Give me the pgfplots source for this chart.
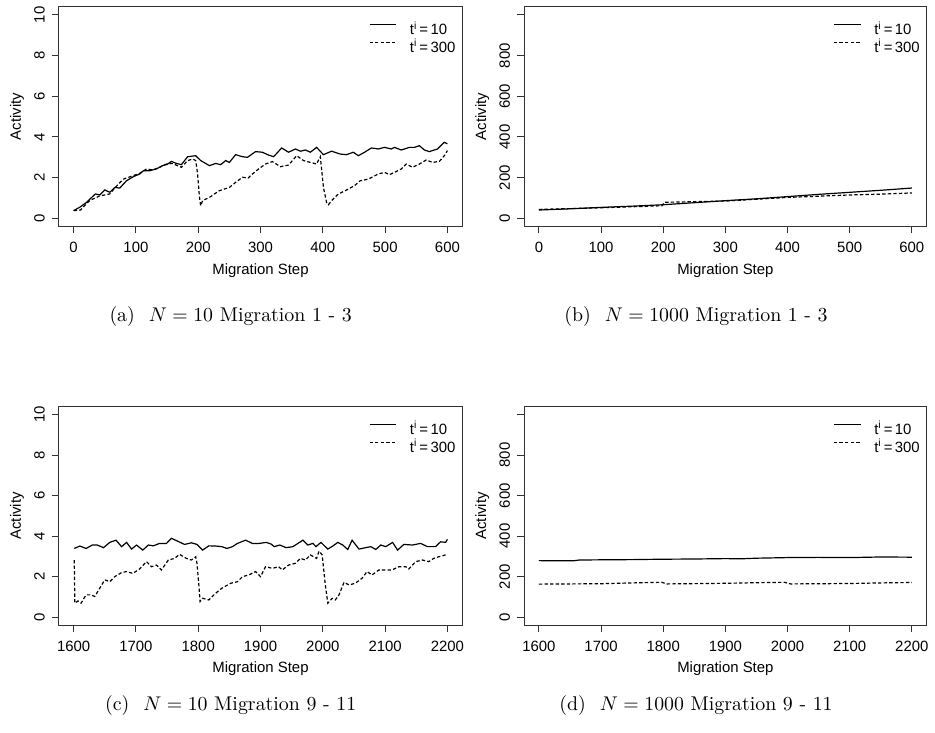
\documentclass[border=0pt]{standalone}
\usepackage{fontspec}
\usepackage{pgfplots}
\pgfplotsset{compat=1.18}
\newfontfamily\lsans{Liberation Sans}
\newcommand\afont{\lsans\fontsize{7.5bp}{9bp}\selectfont}
\newcommand\tl[1]{t\textsuperscript{i}\hspace{0.14em}=\hspace{0.16em}#1}

\pgfplotsset{rstyle/.style={
  scale only axis,
  axis line style={line width=0.5bp, black!80},
  every tick/.style={line width=0.5bp, black!80},
  tick align=outside,
  major tick length=3.5bp,
  xtick pos=bottom, ytick pos=left,
  font=\afont,
  tick label style={font=\afont},
  /pgf/number format/assume math mode=true,
  /pgf/number format/1000 sep={},
  yticklabel style={rotate=90, anchor=south},
  xticklabel style={yshift=-1bp},
  xlabel={Migration Step},
  ylabel={Activity},
  xlabel style={at={(axis description cs:0.5,0)}, anchor=center, yshift=-22bp},
  ylabel style={at={(axis description cs:-0.1034,0.5)}, anchor=center, rotate=0},
  legend style={draw=none, fill=none, at={(axis description cs:1,1)}, anchor=north east,
    xshift=-3.5bp, yshift=-7.5bp, font=\afont, inner sep=0pt, outer sep=0pt,
    nodes={inner sep=0pt, outer sep=0pt, text height=6.5bp, text depth=0bp},
    row sep=2.5bp, column sep=6.5bp},
  legend cell align=left,
  legend image code/.code={\draw[#1] (0bp,1.8bp) -- (13.5bp,1.8bp);},
  no markers,
}}
\tikzset{rsolid/.style={black, solid, line width=0.6bp},
         rdash/.style={black, line width=0.6bp, dash pattern=on 1.7bp off 1.1bp}}

\begin{document}
\begin{tikzpicture}
\path (0bp,0bp) rectangle (467.5bp,367.5bp);

% ---------------- (a)
\begin{axis}[rstyle, at={(29.5bp,254.5bp)}, anchor=south west, width=203bp, height=110.5bp,
  xmin=-24, xmax=624, ymin=-0.4, ymax=10.4,
  xtick={0,100,...,600}, ytick={0,2,...,10}]
\addplot[rsolid] coordinates {(0,0.38) (10,0.55) (21,0.79) (28,1.0) (35,1.2) (42,1.15) (50,1.4) (58,1.28) (66,1.52) (74,1.49) (85,1.85) (96,2.05) (106,2.18) (112,2.34) (122,2.34) (133,2.43) (143,2.6) (150,2.65) (157,2.8) (165,2.7) (173,2.64) (183,3.03) (196,3.08) (204,2.84) (218,2.59) (228,2.7) (236,2.64) (244,2.84) (250,2.75) (260,3.13) (271,3.03) (279,3.0) (292,3.28) (303,3.25) (313,3.11) (321,3.03) (334,3.46) (345,3.25) (356,3.41) (364,3.3) (372,3.36) (380,3.25) (390,3.49) (401,3.13) (414,3.3) (428,3.16) (438,3.13) (449,3.25) (457,3.08) (467,3.25) (478,3.46) (489,3.41) (499,3.49) (510,3.41) (515,3.49) (526,3.36) (539,3.49) (547,3.49) (555,3.57) (563,3.36) (571,3.28) (584,3.41) (595,3.74) (600,3.66)};
\addlegendentry{\tl{10}}
\addplot[rdash] coordinates {(0,0.38) (11,0.41) (20,0.7) (27,0.9) (35,1.0) (42,1.11) (50,1.15) (58,1.2) (65,1.45) (72,1.69) (80,1.93) (93,2.07) (106,2.21) (117,2.43) (127,2.38) (138,2.51) (149,2.67) (159,2.7) (166,2.6) (173,2.51) (183,2.84) (191,2.92) (196,2.84) (199,2.18) (202,1.03) (204,0.62) (207,0.87) (218,1.03) (226,1.2) (234,1.36) (250,1.52) (260,1.77) (271,2.02) (280,1.98) (287,2.18) (297,2.43) (308,2.67) (319,2.79) (332,2.54) (345,2.62) (358,3.08) (369,2.84) (380,2.75) (390,2.67) (396,3.03) (401,1.52) (406,0.79) (409,0.67) (414,0.87) (425,1.2) (436,1.36) (451,1.61) (460,1.85) (473,1.93) (489,2.18) (499,2.26) (507,2.15) (515,2.26) (526,2.43) (534,2.67) (544,2.51) (555,2.67) (566,2.87) (576,2.75) (587,2.8) (595,3.08) (600,3.33)};
\addlegendentry{\tl{300}}
\end{axis}

% ---------------- (b)
\begin{axis}[rstyle, at={(263.5bp,254.5bp)}, anchor=south west, width=202.5bp, height=110.5bp,
  xmin=-24, xmax=624, ymin=-40, ymax=1040,
  xtick={0,100,...,600}, ytick={0,200,400,600,800,1000}, yticklabels={0,200,400,600,800,}]
\addplot[rsolid] coordinates {(0,41) (50,47) (100,54) (150,60) (200,67) (250,77) (300,87) (350,96) (400,107) (450,118) (500,128) (550,138) (600,149)};
\addlegendentry{\tl{10}}
\addplot[rdash] coordinates {(0,44) (100,52) (198,62) (202,79) (250,82) (300,85) (350,94) (400,103) (450,109) (500,115) (550,119) (600,125)};
\addlegendentry{\tl{300}}
\end{axis}

% ---------------- (c)
\begin{axis}[rstyle, at={(29.5bp,54bp)}, anchor=south west, width=203bp, height=110bp,
  xmin=1576, xmax=2224, ymin=-0.4, ymax=10.4,
  xtick={1600,1700,...,2200}, ytick={0,2,...,10}]
\addplot[rsolid] coordinates {(1601,3.39) (1610,3.51) (1620,3.39) (1630,3.56) (1638,3.56) (1648,3.43) (1658,3.69) (1668,3.8) (1677,3.48) (1685,3.69) (1693,3.36) (1701,3.56) (1711,3.31) (1720,3.56) (1728,3.52) (1738,3.64) (1749,3.64) (1757,3.89) (1767,3.75) (1778,3.59) (1789,3.67) (1798,3.59) (1807,3.31) (1817,3.52) (1828,3.51) (1838,3.48) (1846,3.39) (1855,3.48) (1863,3.64) (1876,3.8) (1887,3.64) (1898,3.64) (1909,3.69) (1917,3.61) (1922,3.48) (1931,3.56) (1941,3.43) (1952,3.48) (1960,3.64) (1968,3.8) (1976,3.56) (1984,3.64) (1989,3.48) (1997,3.69) (2008,3.36) (2016,3.51) (2024,3.69) (2032,3.56) (2040,3.34) (2047,3.8) (2058,3.36) (2069,3.43) (2077,3.48) (2085,3.34) (2093,3.56) (2101,3.48) (2112,3.69) (2120,3.31) (2130,3.59) (2144,3.56) (2157,3.64) (2168,3.48) (2181,3.48) (2189,3.72) (2197,3.69) (2200,3.84)};
\addlegendentry{\tl{10}}
\addplot[rdash] coordinates {(1601,2.82) (1602,0.69) (1607,0.8) (1612,0.69) (1620,1.1) (1628,1.1) (1634,1.02) (1642,1.43) (1650,1.84) (1658,1.75) (1666,2.0) (1677,2.2) (1685,2.25) (1695,2.16) (1706,2.38) (1717,2.74) (1725,2.49) (1733,2.57) (1741,2.33) (1752,2.82) (1762,2.9) (1770,3.1) (1781,2.9) (1789,2.82) (1796,2.98) (1798,2.66) (1801,1.59) (1803,0.77) (1807,0.93) (1817,0.85) (1828,1.18) (1838,1.43) (1852,1.67) (1863,1.75) (1871,2.0) (1881,2.08) (1892,2.25) (1900,2.0) (1908,2.49) (1919,2.41) (1929,2.49) (1935,2.33) (1945,2.57) (1956,2.66) (1964,2.9) (1972,2.82) (1980,3.07) (1990,2.9) (1994,3.26) (1999,3.07) (2004,1.59) (2008,0.69) (2015,0.93) (2020,0.85) (2026,1.1) (2034,1.72) (2042,1.59) (2052,1.67) (2063,1.92) (2071,2.25) (2079,2.08) (2090,2.33) (2103,2.33) (2111,2.33) (2122,2.49) (2133,2.49) (2138,2.38) (2149,2.74) (2160,2.82) (2170,2.74) (2178,2.9) (2186,2.98) (2197,3.07) (2200,3.07)};
\addlegendentry{\tl{300}}
\end{axis}

% ---------------- (d)
\begin{axis}[rstyle, at={(263.5bp,54bp)}, anchor=south west, width=202.5bp, height=110bp,
  xmin=1576, xmax=2224, ymin=-40, ymax=1040,
  xtick={1600,1700,...,2200}, ytick={0,200,400,600,800,1000}, yticklabels={0,200,400,600,800,}]
\addplot[rsolid] coordinates {(1600,279) (1630,278) (1655,278) (1665,282) (1700,283) (1750,284) (1800,286) (1850,287) (1900,289) (1925,288) (1950,291) (2000,294) (2050,295) (2100,294) (2150,297) (2200,296)};
\addlegendentry{\tl{10}}
\addplot[rdash] coordinates {(1600,163) (1700,165) (1750,169) (1798,172) (1805,164) (1900,167) (1950,170) (1995,172) (2005,164) (2100,166) (2150,169) (2200,171)};
\addlegendentry{\tl{300}}
\end{axis}

% captions
\begin{scope}[every node/.style={font=\fontsize{10bp}{12bp}\selectfont, anchor=base}]
\node at (116bp,206.5bp) {(a)\hspace{0.7em}$N = 10$ Migration 1 - 3};
\node at (350bp,206.5bp) {(b)\hspace{0.7em}$N = 1000$ Migration 1 - 3};
\node at (116bp,11bp) {(c)\hspace{0.7em}$N = 10$ Migration 9 - 11};
\node at (350bp,11bp) {(d)\hspace{0.7em}$N = 1000$ Migration 9 - 11};
\end{scope}
\end{tikzpicture}
\end{document}
